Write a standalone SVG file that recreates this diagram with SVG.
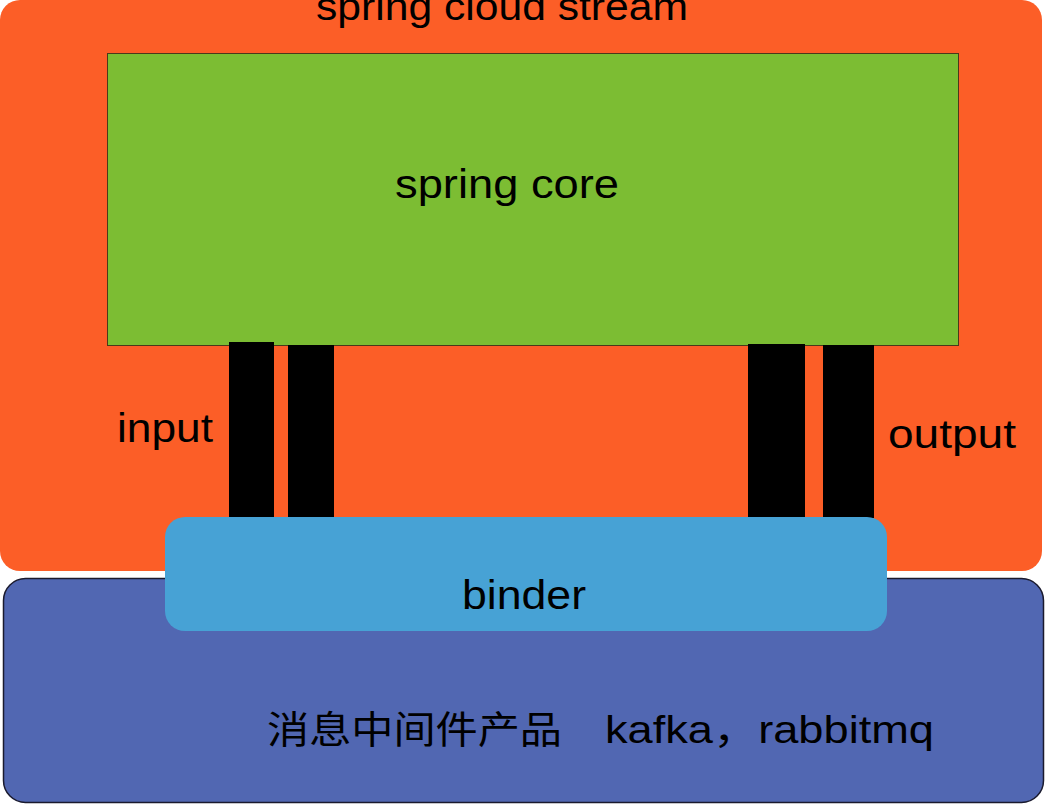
<svg xmlns="http://www.w3.org/2000/svg" width="1046" height="804" viewBox="0 0 1046 804">
<style>
text{font-family:"Liberation Sans","Noto Sans CJK SC",sans-serif;fill:#000;}
.bar{fill:#000;}
</style>
<rect width="1046" height="804" fill="#fff"/>
<g id="stream">
<rect x="0" y="0" width="1042" height="571" rx="20" fill="#FC5E27"/>
<text x="502" y="20" font-size="38" text-anchor="middle" textLength="372" lengthAdjust="spacingAndGlyphs">spring cloud stream</text>
</g>
<g id="mq">
<rect x="3.5" y="578.5" width="1040" height="224" rx="22" fill="#5167B2" stroke="#1a1a2e" stroke-width="1.5"/>
<text x="267" y="743" font-size="38" textLength="295" lengthAdjust="spacingAndGlyphs">消息中间件产品</text>
<text x="605" y="743" font-size="38" textLength="329" lengthAdjust="spacingAndGlyphs">kafka，rabbitmq</text>
</g>
<g id="core">
<rect x="107.5" y="53.5" width="851" height="292" fill="#7CBD33" stroke="#4a3a1a" stroke-width="1"/>
<text x="507" y="198" font-size="40" text-anchor="middle" textLength="224" lengthAdjust="spacingAndGlyphs">spring core</text>
</g>
<g id="connectors">
<rect class="bar" x="229" y="342" width="45" height="179"/>
<rect class="bar" x="288" y="345" width="46" height="176"/>
<rect class="bar" x="748" y="344" width="57" height="174"/>
<rect class="bar" x="823" y="345" width="51" height="173"/>
</g>
<g id="input">
<text x="117" y="442" font-size="40" textLength="96" lengthAdjust="spacingAndGlyphs">input</text>
</g>
<g id="output">
<text x="888" y="448" font-size="40" textLength="128" lengthAdjust="spacingAndGlyphs">output</text>
</g>
<g id="binder">
<rect x="165" y="517" width="722" height="114" rx="20" fill="#47A2D5"/>
<text x="524" y="609" font-size="40" text-anchor="middle" textLength="124" lengthAdjust="spacingAndGlyphs">binder</text>
</g>
</svg>
